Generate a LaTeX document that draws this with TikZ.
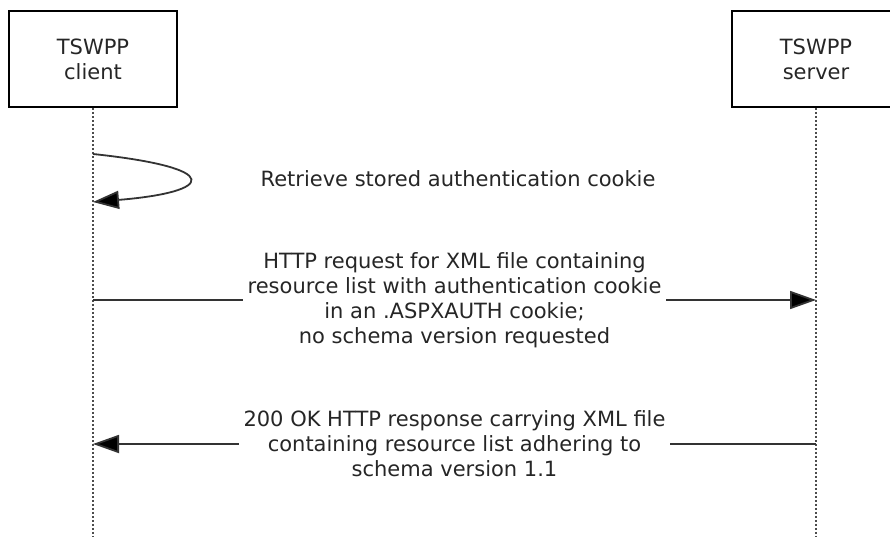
\documentclass[tikz,border=0pt]{standalone}
\usepackage{fontspec}
\setmainfont{DejaVu Sans}
\usetikzlibrary{arrows.meta, positioning, calc}

\tikzset{
  actor/.style={draw=black, line width=1.6pt, minimum width=168pt, minimum height=96pt,
    align=center, font=\fontsize{21}{25}\selectfont, text=black!85},
  lifeline/.style={draw=black!70, line width=1.5pt, dash pattern=on 2pt off 2pt},
  msg/.style={draw=black!80, line width=1.8pt, -{Triangle[length=26pt, width=18pt, fill=black]}},
  msgtext/.style={fill=white, align=center, inner xsep=5pt, inner ysep=0pt,
    font=\fontsize{21}{25}\selectfont, text=black!85}
}

\begin{document}
\begin{tikzpicture}[x=1pt, y=-1pt]
  \useasboundingbox (0,0) rectangle (890,537);

  \node[actor] (client) at (93,59) {TSWPP\\client};
  \node[actor] (server) at (816,59) {TSWPP\\server};

  \coordinate (client end) at (93,540);
  \coordinate (server end) at (816,540);
  \draw[lifeline] (client) -- (client end);
  \draw[lifeline] (server) -- (server end);

  % self message
  \coordinate (loop start) at (93,154);
  \coordinate (loop end) at (93,202);
  \draw[msg] (loop start) .. controls (225,168) and (215,192) .. (loop end);
  \node[msgtext] (retrieve) at (458,179) {Retrieve stored authentication cookie};

  % request
  \coordinate (req from) at (93,300);
  \coordinate (req to) at (816,300);
  \draw[msg] (req from) -- node[msgtext] (request) {HTTP request for XML file containing\\resource list with authentication cookie\\in an .ASPXAUTH cookie;\\no schema version requested} (req to);

  % response
  \coordinate (resp from) at (816,444);
  \coordinate (resp to) at (93,444);
  \draw[msg] (resp from) -- node[msgtext] (response) {200 OK HTTP response carrying XML file\\containing resource list adhering to\\schema version 1.1} (resp to);
\end{tikzpicture}
\end{document}
